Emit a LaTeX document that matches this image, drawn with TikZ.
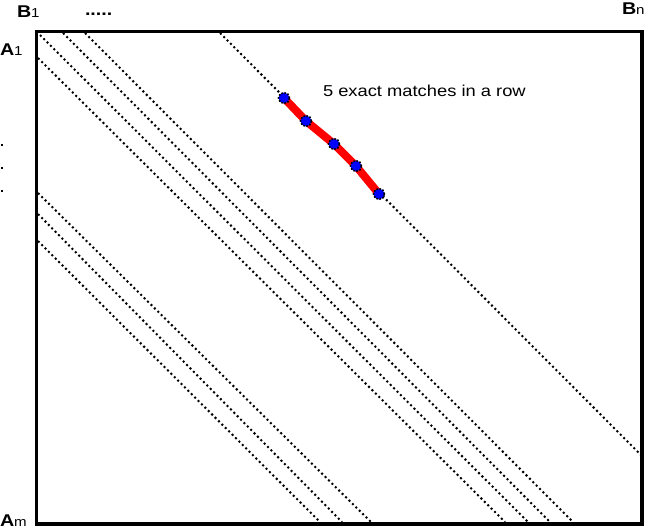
\documentclass[tikz,border=0pt]{standalone}
\usepackage{fontspec}
\setmainfont{Liberation Sans}[FakeStretch=1.16]
\begin{document}
\begin{tikzpicture}[x=1pt,y=-1pt,
  frame/.style={draw=black,line width=3.3pt},
  diag/.style={draw=black,line width=2pt,dash pattern=on 2pt off 2.8pt},
  lbl/.style={anchor=base west,inner sep=0pt,outer sep=0pt},
  match/.style={draw=red,line width=8pt,line join=round},
  hit/.style={circle,fill=blue,draw=black,line width=1.6pt,dash pattern=on 1.6pt off 1.6pt,minimum size=11pt,inner sep=0pt},
  vdot/.style={fill=black,inner sep=0pt,minimum size=2.8pt}]
\useasboundingbox (0,0) rectangle (646,530);
% diagonals
\coordinate (t1) at (40,35);   \coordinate (e1) at (528,522);
\coordinate (t2) at (63,33);   \coordinate (e2) at (550,522);
\coordinate (t3) at (85,33);   \coordinate (e3) at (573,522);
\coordinate (t4) at (38,58);   \coordinate (e4) at (505,522);
\coordinate (t5) at (220,33);  \coordinate (e5) at (642,456);
\coordinate (l1) at (38,193);  \coordinate (f1) at (371,522);
\coordinate (l2) at (38,214);  \coordinate (f2) at (342,522);
\coordinate (l3) at (38,241);  \coordinate (f3) at (320,522);
\foreach \a/\b in {t1/e1,t2/e2,t3/e3,t4/e4,t5/e5,l1/f1,l2/f2,l3/f3}
  \draw[diag] (\a) -- (\b);
% frame
\draw[frame] (36.7,31.7) rectangle (642,524);
% match
\coordinate (p1) at (284,98);
\coordinate (p2) at (306,121);
\coordinate (p3) at (334,144);
\coordinate (p4) at (356,166);
\coordinate (p5) at (379,194);
\draw[match] (p1) -- (p2) -- (p3) -- (p4) -- (p5);
\foreach \p in {p1,p2,p3,p4,p5}
  \node[hit] (h\p) at (\p) {};
\node[lbl] (txt) at (323,96) {\fontsize{15.8}{16}\selectfont 5 exact matches in a row};
% labels
\node[lbl] (b1) at (17,17) {{\fontsize{17}{17}\selectfont\bfseries B}{\fontsize{13}{13}\selectfont 1}};
\node[lbl] (bn) at (622,15) {{\fontsize{17}{17}\selectfont\bfseries B}{\fontsize{13}{13}\selectfont n}};
\node[lbl] (a1) at (0,55) {{\fontsize{17}{17}\selectfont\bfseries A}{\fontsize{13}{13}\selectfont 1}};
\node[lbl] (am) at (0,526.5) {{\fontsize{17}{17}\selectfont\bfseries A}{\fontsize{13}{13}\selectfont m}};
\node[lbl] (dots) at (85,16) {\fontsize{17}{17}\selectfont\bfseries .....};
\node[vdot] (v1) at (2,145) {};
\node[vdot] (v2) at (2,168) {};
\node[vdot] (v3) at (2,191) {};
\end{tikzpicture}
\end{document}
